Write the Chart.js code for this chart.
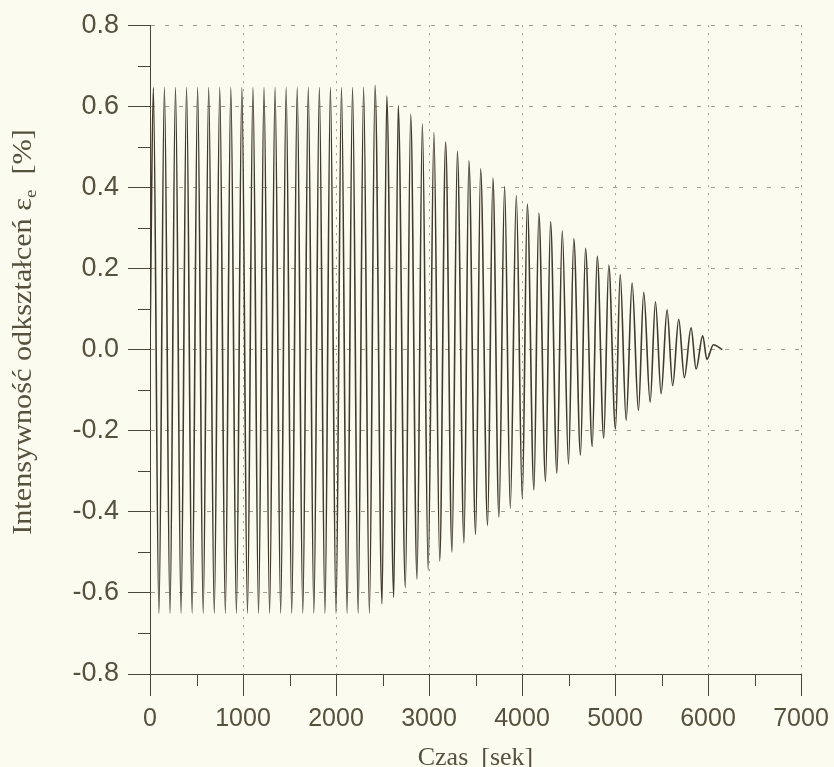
<!DOCTYPE html>
<html>
<head>
<meta charset="utf-8">
<script src="https://cdn.jsdelivr.net/npm/chart.js@4.4.1/dist/chart.umd.min.js"></script>
<style>
  html, body { margin: 0; padding: 0; background: #fcfbef; }
  #chart { display: block; }
</style>
</head>
<body>
<canvas id="chart" width="834" height="767"></canvas>
<script>
// Strain intensity over time: constant-amplitude cycles, then a linear ramp down to zero.
const peakTimes = [36, 155, 274, 393, 512, 631, 750, 869, 988, 1107, 1226, 1345, 1464, 1583, 1702, 1821, 1940, 2059, 2178, 2297, 2420,
    2546, 2669, 2803, 2929, 3053, 3179, 3305, 3429, 3555, 3687, 3813, 3939, 4057, 4181, 4307, 4433, 4557, 4683, 4809, 4933,
    5056, 5184, 5309, 5435, 5560, 5685, 5818, 5943, 6058];
const peakValues = [0.646, 0.646, 0.646, 0.646, 0.646, 0.646, 0.646, 0.646, 0.646, 0.646, 0.646, 0.646, 0.646, 0.646, 0.646, 0.646, 0.646, 0.646, 0.646, 0.646, 0.652,
    0.625, 0.602, 0.580, 0.557, 0.535, 0.512, 0.489, 0.466, 0.446, 0.423, 0.403, 0.380, 0.359, 0.337, 0.316, 0.293, 0.273, 0.250, 0.230, 0.208,
    0.185, 0.164, 0.141, 0.118, 0.098, 0.075, 0.054, 0.034, 0.012];
const troughTimes = [96, 215, 334, 453, 572, 691, 810, 929, 1048, 1167, 1286, 1405, 1524, 1643, 1762, 1881, 2000, 2119, 2238, 2359,
    2495, 2621, 2746, 2871, 2991, 3115, 3247, 3376, 3501, 3630, 3752, 3874, 4003, 4128, 4253, 4375, 4500, 4629, 4755, 4879,
    5005, 5120, 5252, 5378, 5496, 5620, 5746, 5872, 5988];
const troughValues = [-0.650, -0.650, -0.650, -0.650, -0.650, -0.650, -0.650, -0.650, -0.650, -0.650, -0.650, -0.650, -0.650, -0.650, -0.650, -0.650, -0.650, -0.650, -0.650, -0.650,
    -0.627, -0.611, -0.587, -0.566, -0.544, -0.521, -0.499, -0.477, -0.456, -0.434, -0.413, -0.391, -0.368, -0.346, -0.325, -0.305, -0.282, -0.260, -0.239, -0.218,
    -0.196, -0.174, -0.150, -0.130, -0.109, -0.089, -0.069, -0.048, -0.024];
// start and end of the record (at rest)
const restTimes = [0, 6154];
const restValues = [0, 0];

const minorXTicks = [500, 1500, 2500, 3500, 4500, 5500, 6500];
const minorYTicks = [-0.7, -0.5, -0.3, -0.1, 0.1, 0.3, 0.5, 0.7];

const xTitle = 'Czas  [sek]';
const yTitle = 'Intensywność odkształceń ε';
const yTitleSub = 'e';
const yTitleUnit = '  [%]';

const axisColor = '#4a463a';
const textColor = '#55513e';
const gridColor = '#a29d8b';
const lineColor = '#3f3b2d';

function buildPoints() {
    const pts = [];
    restTimes.forEach((t, i) => pts.push({ x: t, y: restValues[i] }));
    peakTimes.forEach((t, i) => pts.push({ x: t, y: peakValues[i] }));
    troughTimes.forEach((t, i) => pts.push({ x: t, y: troughValues[i] }));
    return pts.sort((a, b) => a.x - b.x);
}

// minor tick marks + axis titles (y title has a subscript)
const axisDecor = {
    id: 'axisDecor',
    afterDraw(chart) {
        const { ctx, chartArea, scales: { x, y } } = chart;
        ctx.save();
        ctx.strokeStyle = axisColor;
        ctx.lineWidth = 1;
        ctx.beginPath();
        minorXTicks.forEach(v => {
            const px = Math.round(x.getPixelForValue(v)) + 0.5;
            ctx.moveTo(px, chartArea.bottom);
            ctx.lineTo(px, chartArea.bottom + 12);
        });
        minorYTicks.forEach(v => {
            const py = Math.round(y.getPixelForValue(v)) + 0.5;
            ctx.moveTo(chartArea.left - 12, py);
            ctx.lineTo(chartArea.left, py);
        });
        ctx.stroke();

        ctx.fillStyle = textColor;
        ctx.textBaseline = 'alphabetic';

        // x title
        ctx.font = '26px "Liberation Serif"';
        ctx.textAlign = 'center';
        ctx.fillText(xTitle, (chartArea.left + chartArea.right) / 2, 765);

        // y title, rotated and a bit stretched along its length
        const mainFont = '27px "Liberation Serif"';
        const subFont = '17px "Liberation Serif"';
        ctx.font = mainFont;
        const w1 = ctx.measureText(yTitle).width;
        const w3 = ctx.measureText(yTitleUnit).width;
        ctx.font = subFont;
        const w2 = ctx.measureText(yTitleSub).width;
        const total = w1 + w2 + w3;
        ctx.translate(31, 332);
        ctx.rotate(-Math.PI / 2);
        ctx.scale(1.12, 1);
        ctx.textAlign = 'left';
        let cx = -total / 2;
        ctx.font = mainFont;
        ctx.fillText(yTitle, cx, 0);
        cx += w1;
        ctx.font = subFont;
        ctx.fillText(yTitleSub, cx, 5);
        cx += w2;
        ctx.font = mainFont;
        ctx.fillText(yTitleUnit, cx, 0);
        ctx.restore();
    }
};

const ctx = document.getElementById('chart').getContext('2d');
new Chart(ctx, {
    type: 'line',
    data: {
        datasets: [{
            data: buildPoints(),
            borderColor: lineColor,
            borderWidth: 1.6,
            pointRadius: 0,
            fill: false,
            cubicInterpolationMode: 'monotone'
        }]
    },
    options: {
        responsive: false,
        animation: false,
        layout: { padding: { top: 24, right: 33, left: 0, bottom: 0 } },
        plugins: {
            legend: { display: false },
            tooltip: { enabled: false }
        },
        scales: {
            x: {
                type: 'linear',
                min: 0,
                max: 7000,
                afterFit: s => { s.height = 93; s.paddingLeft = 0; s.paddingRight = 0; },
                ticks: {
                    stepSize: 1000,
                    autoSkip: false,
                    maxRotation: 0,
                    padding: 8,
                    color: textColor,
                    font: { family: 'Liberation Sans', size: 25 },
                    callback: v => String(v)
                },
                grid: { color: gridColor, tickColor: axisColor, tickLength: 22, lineWidth: 1, tickWidth: 1 },
                border: { color: axisColor, width: 1, dash: [2, 6] }
            },
            y: {
                min: -0.8,
                max: 0.8,
                afterFit: s => { s.width = 150; },
                ticks: {
                    stepSize: 0.2,
                    padding: 9,
                    color: textColor,
                    font: { family: 'Liberation Sans', size: 27 },
                    callback: v => (Math.abs(v) < 1e-9 ? 0 : v).toFixed(1)
                },
                grid: { color: gridColor, tickColor: axisColor, tickLength: 22, lineWidth: 1, tickWidth: 1 },
                border: { color: axisColor, width: 1, dash: [4, 10] }
            }
        }
    },
    plugins: [axisDecor]
});
</script>
</body>
</html>
